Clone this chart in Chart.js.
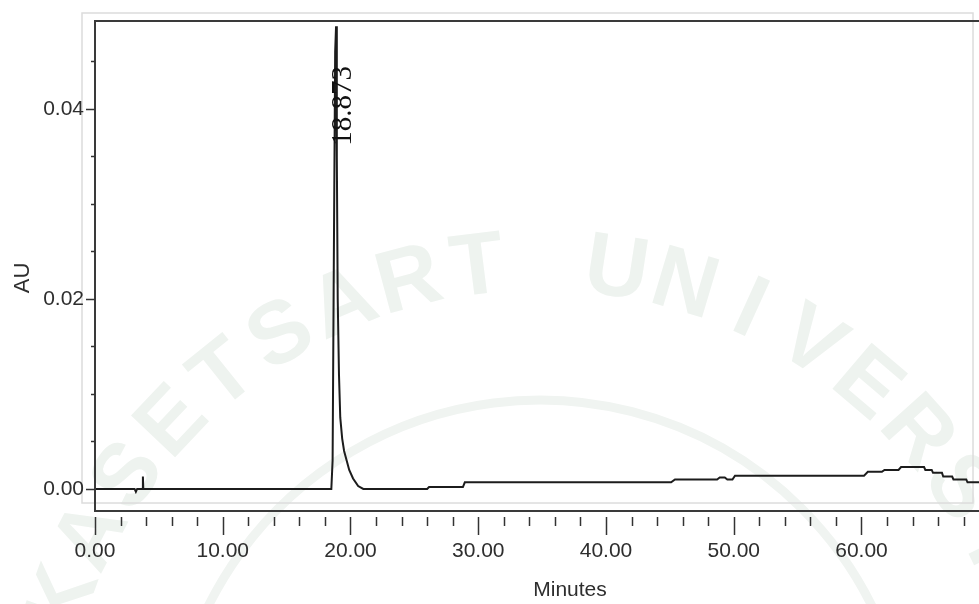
<!DOCTYPE html>
<html><head><meta charset="utf-8">
<script src="https://cdn.jsdelivr.net/npm/chart.js@4.4.1/dist/chart.umd.min.js"></script>
<style>html,body{margin:0;padding:0;background:#fff;overflow:hidden}canvas{display:block}</style>
</head><body>
<canvas id="c" width="979" height="604"></canvas>
<script>
// ---- data ----
const times = [0, 3.1, 3.2, 3.3, 3.72, 3.75, 3.78, 18.5, 18.6, 18.7, 18.8, 18.87, 18.93, 19.0, 19.1, 19.2, 19.35, 19.5, 19.7, 19.9, 20.2, 20.6, 21.0,
  26.0, 26.15, 28.8, 28.95, 45.1, 45.4, 48.7, 48.9, 49.3, 49.5, 49.9, 50.1, 60.2, 60.5, 61.6, 61.8, 62.9, 63.1, 64.9, 65.0, 65.5, 65.6, 66.3, 66.4, 67.1, 67.2, 68.2, 68.3, 69.5];
const absorbance = [0, 0, -0.0003, 0, 0, 0.0013, 0, 0, 0.003, 0.025, 0.046, 0.0487, 0.035, 0.02, 0.012, 0.0075, 0.0053, 0.004, 0.003, 0.002, 0.0011, 0.0003, 0,
  0, 0.0002, 0.0002, 0.0007, 0.0007, 0.001, 0.001, 0.0012, 0.0012, 0.001, 0.001, 0.0014, 0.0014, 0.0018, 0.0018, 0.002, 0.002, 0.0023, 0.0023, 0.002, 0.002, 0.0017, 0.0017, 0.0013, 0.0013, 0.001, 0.001, 0.0007, 0.0007];
const xTickValues = [0,2,4,6,8,10,12,14,16,18,20,22,24,26,28,30,32,34,36,38,40,42,44,46,48,50,52,54,56,58,60,62,64,66,68];
const xMajorValues = [0,10,20,30,40,50,60];
const xMajorLabels = ['0.00','10.00','20.00','30.00','40.00','50.00','60.00'];
const yTickValues = [0,0.005,0.01,0.015,0.02,0.025,0.03,0.035,0.04,0.045];
const yMajorValues = [0,0.02,0.04];
const yMajorLabels = ['0.00','0.02','0.04'];
const peakTimes = [18.873];
const peakLabels = ['18.873'];
const xTitle = 'Minutes';
const yTitle = 'AU';

const points = times.map((t,i)=>({x:t, y:absorbance[i]}));
const near = (a,b)=>Math.abs(a-b)<1e-9;
const TXT = '#2e2e2e';
const tickFont = '"Liberation Sans",Arial,sans-serif';

const decor = {
  id:'decor',
  beforeDraw(chart){
    const ctx = chart.ctx, a = chart.chartArea;
    ctx.save();
    // faint watermark of the university seal
    const cx = 540, cy = 770, R = 480;
    ctx.fillStyle = '#eef3ef';
    ctx.font = 'bold 88px "Liberation Sans",sans-serif';
    ctx.textAlign = 'center'; ctx.textBaseline = 'alphabetic';
    const wm = 'KASETSART UNIVERSITY';
    let ang = -160.3;
    for (const ch of wm){
      const r = ang*Math.PI/180;
      ctx.save();
      ctx.translate(cx + R*Math.cos(r), cy + R*Math.sin(r));
      ctx.rotate(r + Math.PI/2);
      ctx.fillText(ch, 0, 0);
      ctx.restore();
      ang += 7.9;
    }
    ctx.strokeStyle = '#f0f4f1'; ctx.lineWidth = 9;
    ctx.beginPath(); ctx.arc(cx, cy, 370, Math.PI*1.08, Math.PI*1.92); ctx.stroke();
    // light outer frame
    ctx.strokeStyle = '#dcdcdc'; ctx.lineWidth = 1.5;
    ctx.strokeRect(a.left-13, a.top-8, (a.right-6)-(a.left-13), (a.bottom-8)-(a.top-8));
    ctx.restore();
  },
  afterDraw(chart){
    const ctx = chart.ctx, a = chart.chartArea, xs = chart.scales.x, ys = chart.scales.y;
    ctx.save();
    // dark frame (left, top, bottom)
    ctx.strokeStyle = '#3a3a3a'; ctx.lineWidth = 2;
    ctx.beginPath();
    ctx.moveTo(a.right+2, a.top); ctx.lineTo(a.left, a.top); ctx.lineTo(a.left, a.bottom); ctx.lineTo(a.right+2, a.bottom);
    ctx.stroke();
    // x tick marks
    ctx.strokeStyle = '#333'; ctx.lineWidth = 1.5;
    xTickValues.forEach(v=>{
      const px = Math.round(xs.getPixelForValue(v))+0.5;
      const major = xMajorValues.some(m=>near(m,v));
      ctx.beginPath(); ctx.moveTo(px, a.bottom+6); ctx.lineTo(px, a.bottom+(major?24:15)); ctx.stroke();
    });
    // y tick marks
    yTickValues.forEach(v=>{
      const py = Math.round(ys.getPixelForValue(v))+0.5;
      const major = yMajorValues.some(m=>near(m,v));
      ctx.beginPath(); ctx.moveTo(a.left-(major?9:4), py); ctx.lineTo(a.left, py); ctx.stroke();
    });
    // axis titles
    ctx.fillStyle = TXT;
    ctx.font = '21px "Liberation Sans",sans-serif';
    ctx.textAlign = 'center'; ctx.textBaseline = 'middle';
    ctx.fillText(xTitle, 570, 590);
    ctx.save(); ctx.translate(23, 278); ctx.rotate(-Math.PI/2);
    ctx.font = '22px "Liberation Sans",sans-serif';
    ctx.fillText(yTitle, 0, 0); ctx.restore();
    // peak label
    ctx.fillStyle = '#111';
    ctx.font = '29px "Liberation Serif",serif';
    peakTimes.forEach((t,i)=>{
      const px = xs.getPixelForValue(t) + 7;
      const py = ys.getPixelForValue(0.04) - 3;
      ctx.save(); ctx.translate(px, py); ctx.rotate(-Math.PI/2);
      ctx.textAlign='center'; ctx.textBaseline='middle';
      ctx.fillText(peakLabels[i], 0, 0); ctx.restore();
    });
    ctx.restore();
  }
};

new Chart(document.getElementById('c'), {
  type:'line',
  data:{ datasets:[{ data:points, borderColor:'#1c1c1c', borderWidth:2, pointRadius:0, tension:0, fill:false }]},
  options:{
    responsive:false, animation:false, devicePixelRatio:1,
    layout:{ padding:{ left:0, top:21, right:0, bottom:0 } },
    plugins:{ legend:{display:false}, tooltip:{enabled:false} },
    scales:{
      x:{ type:'linear', min:0, max:69.2,
        afterBuildTicks(s){ s.ticks = xTickValues.map(v=>({value:v})); },
        afterFit(s){ s.height = 93; s.paddingLeft = 0; s.paddingRight = 0; },
        grid:{ display:false, drawTicks:false }, border:{ display:false },
        ticks:{ autoSkip:false, maxRotation:0, padding:28, color:TXT,
          font:{ family:tickFont, size:21 },
          callback(v){ const i = xMajorValues.findIndex(m=>near(m,v)); return i>=0 ? xMajorLabels[i] : ''; } }
      },
      y:{ type:'linear', min:-0.00232, max:0.04926,
        afterBuildTicks(s){ s.ticks = yTickValues.map(v=>({value:v})); },
        afterFit(s){ s.width = 95; s.paddingTop = 0; s.paddingBottom = 0; },
        grid:{ display:false, drawTicks:false }, border:{ display:false },
        ticks:{ autoSkip:false, padding:11, color:TXT,
          font:{ family:tickFont, size:21 },
          callback(v){ const i = yMajorValues.findIndex(m=>near(m,v)); return i>=0 ? yMajorLabels[i] : ''; } }
      }
    }
  },
  plugins:[decor]
});
</script>
</body></html>
